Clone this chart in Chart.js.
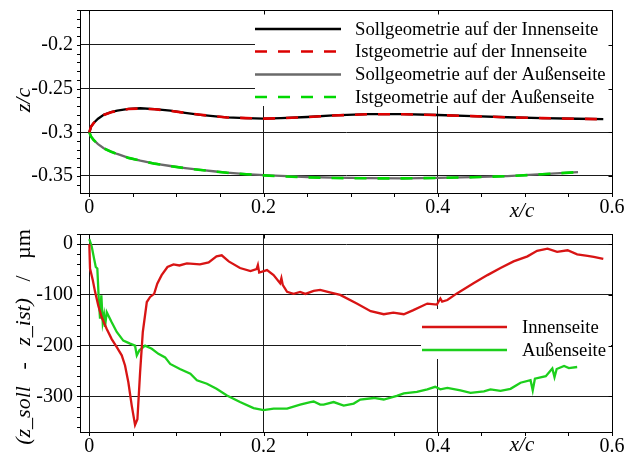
<!DOCTYPE html>
<html>
<head>
<meta charset="utf-8">
<script src="https://cdn.jsdelivr.net/npm/chart.js@4/dist/chart.umd.min.js"></script>
<style>
  html, body { margin: 0; padding: 0; background: #fff; width: 625px; height: 456px; overflow: hidden; }
  canvas { position: absolute; left: 0; display: block; }
  #geo { top: 0; }
  #dev { top: 225px; }
  .preload { position: absolute; left: -9999px; top: 0; font-family: 'Liberation Serif'; }
</style>
</head>
<body>
<span class="preload">0.2 Innenseite <i>z/c</i></span>
<canvas id="geo" width="625" height="225"></canvas>
<canvas id="dev" width="625" height="231"></canvas>
<script>
const SERIF = "'Liberation Serif', 'Times New Roman', serif";

// ---- Profile geometry, z/c over x/c ----
const innerX    = [0, 0.002, 0.005, 0.01, 0.0165, 0.025, 0.032, 0.045, 0.0586, 0.075, 0.093, 0.11, 0.1276, 0.145, 0.158, 0.18, 0.2, 0.22, 0.25, 0.28, 0.32, 0.36, 0.4, 0.44, 0.48, 0.52, 0.56, 0.59];
const innerSoll = [-0.3, -0.2935, -0.2894, -0.2845, -0.28, -0.277, -0.2753, -0.2733, -0.2725, -0.2735, -0.2753, -0.2778, -0.28, -0.2818, -0.283, -0.2838, -0.2843, -0.2838, -0.2825, -0.2807, -0.2792, -0.2792, -0.2802, -0.2815, -0.2828, -0.2838, -0.2845, -0.285];
const innerIst  = [-0.3, -0.2935, -0.2894, -0.2845, -0.2801, -0.2771, -0.2754, -0.2734, -0.2727, -0.2737, -0.2754, -0.2778, -0.28, -0.2818, -0.283, -0.2838, -0.2843, -0.2839, -0.2826, -0.2808, -0.2793, -0.2793, -0.2803, -0.2815, -0.2828, -0.2838, -0.2845, -0.2851];

const outerX    = [0, 0.002, 0.005, 0.01, 0.0165, 0.025, 0.032, 0.045, 0.0586, 0.075, 0.093, 0.11, 0.1276, 0.145, 0.158, 0.18, 0.2, 0.22, 0.25, 0.28, 0.32, 0.36, 0.4, 0.44, 0.48, 0.52, 0.561];
const outerSoll = [-0.3, -0.305, -0.3088, -0.3135, -0.3183, -0.3222, -0.3248, -0.3292, -0.3325, -0.3358, -0.3386, -0.341, -0.3431, -0.3449, -0.3462, -0.3478, -0.349, -0.35, -0.3512, -0.352, -0.3525, -0.3527, -0.3522, -0.3514, -0.3501, -0.348, -0.3455];
const outerIst  = [-0.3, -0.305, -0.3089, -0.3136, -0.3184, -0.3223, -0.3249, -0.3293, -0.3326, -0.3359, -0.3387, -0.3411, -0.3432, -0.345, -0.3463, -0.348, -0.3493, -0.3504, -0.3516, -0.3523, -0.3527, -0.3528, -0.3523, -0.3515, -0.3502, -0.3481, -0.3456];

const geoXTicks  = [0, 0.2, 0.4, 0.6];
const geoXLabels = ['0', '0.2', '0.4', '0.6'];
const geoYTicks  = [-0.35, -0.3, -0.25, -0.2];
const geoYLabels = ['-0.35', '-0.3', '-0.25', '-0.2'];

// ---- Deviation z_soll - z_ist in µm ----
const innenX = [0, 0.0008, 0.004, 0.0066, 0.0103, 0.0142, 0.02, 0.0257, 0.0315, 0.0372, 0.041, 0.0448, 0.0487, 0.0525, 0.0552, 0.0583, 0.0614, 0.066, 0.0698, 0.0744, 0.078, 0.083, 0.0897, 0.0966, 0.1034, 0.112, 0.127, 0.137, 0.146, 0.152, 0.16, 0.173, 0.185, 0.192, 0.1935, 0.195, 0.204, 0.2115, 0.219, 0.2205, 0.222, 0.227, 0.2345, 0.242, 0.248, 0.2575, 0.265, 0.276, 0.288, 0.307, 0.323, 0.338, 0.349, 0.361, 0.372, 0.388, 0.399, 0.403, 0.405, 0.411, 0.422, 0.441, 0.457, 0.472, 0.487, 0.503, 0.514, 0.526, 0.537, 0.549, 0.56, 0.572, 0.579, 0.59];
const innenDev = [0, -48, -71, -94, -121, -144, -167, -187, -203, -219, -239, -272, -318, -356, -345, -252, -173, -114, -104, -98, -78, -61, -45, -40, -42, -38, -40, -36, -24, -22, -34, -47, -53, -49, -41, -56, -51, -61, -77, -67, -80, -94, -98, -94, -98, -92, -90, -95, -100, -117, -132, -138, -135, -138, -130, -117, -119, -107, -113, -110, -97, -77, -61, -47, -34, -24, -13, -9, -15, -12, -20, -23, -25, -29];

const aussenX = [0, 0.0028, 0.0054, 0.0074, 0.0092, 0.0108, 0.0123, 0.0138, 0.0154, 0.0169, 0.018, 0.02, 0.0257, 0.0315, 0.039, 0.0468, 0.0525, 0.0545, 0.0575, 0.064, 0.0717, 0.0793, 0.087, 0.0928, 0.104, 0.116, 0.1235, 0.135, 0.146, 0.158, 0.173, 0.1885, 0.2, 0.2115, 0.227, 0.242, 0.2537, 0.2575, 0.265, 0.269, 0.2805, 0.292, 0.3035, 0.311, 0.3265, 0.338, 0.353, 0.361, 0.376, 0.388, 0.397, 0.403, 0.411, 0.426, 0.4376, 0.453, 0.4605, 0.472, 0.4835, 0.495, 0.5065, 0.509, 0.5115, 0.524, 0.5315, 0.534, 0.5365, 0.545, 0.5505, 0.56];
const aussenDev = [10, -5, -28, -45, -48, -107, -147, -101, -154, -140, -163, -134, -154, -173, -190, -196, -200, -219, -209, -200, -206, -216, -223, -236, -246, -255, -268, -275, -285, -298, -311, -323, -327, -324, -324, -316, -311, -310, -316, -316, -311, -318, -314, -306, -303, -306, -299, -294, -291, -286, -281, -286, -283, -288, -293, -290, -286, -289, -285, -273, -268, -288, -265, -260, -245, -262, -246, -240, -244, -242];

const devYTicks  = [-300, -200, -100, 0];
const devYLabels = ['-300', '-200', '-100', '0'];

const pts = (xs, ys) => xs.map((x, i) => ({ x, y: ys[i] }));

// Frame, minor ticks, in-plot legend and axis titles
function decorations(cfg) {
  return {
    id: 'decorations',
    beforeDatasetsDraw(chart) {
      const ctx = chart.ctx, a = chart.chartArea, b = cfg.legend.box;
      ctx.save();
      ctx.fillStyle = '#fff';
      ctx.fillRect(b[0], b[1], (b[2] ?? a.right) - b[0], b[3] - b[1]);
      ctx.restore();
    },
    afterDatasetsDraw(chart) {
      const ctx = chart.ctx, a = chart.chartArea;
      const xs = chart.scales.x, ys = chart.scales.y;
      ctx.save();

      // legend
      const L = cfg.legend;
      ctx.font = `18.7px ${SERIF}`;
      ctx.textBaseline = 'middle';
      ctx.textAlign = 'left';
      ctx.fillStyle = '#000';
      chart.data.datasets.forEach((ds, i) => {
        const y = L.rows[i];
        ctx.strokeStyle = ds.borderColor;
        ctx.lineWidth = ds.borderWidth;
        ctx.setLineDash(ds.borderDash || []);
        ctx.beginPath();
        ctx.moveTo(L.x0, y);
        ctx.lineTo(L.x1, y);
        ctx.stroke();
        ctx.fillText(ds.label, L.tx, y + 1);
      });
      ctx.setLineDash([]);

      // frame
      ctx.strokeStyle = '#000';
      ctx.lineWidth = 1;
      const l = Math.round(a.left) + 0.5, r = Math.round(a.right) + 0.5;
      const t = Math.round(a.top) + 0.5, bt = Math.round(a.bottom) + 0.5;
      ctx.strokeRect(l, t, r - l, bt - t);

      // ticks: outward on left/bottom, inward on top/right at major values
      ctx.beginPath();
      for (let v = Math.ceil(xs.min / cfg.xMinor) * cfg.xMinor; v <= xs.max + 1e-9; v += cfg.xMinor) {
        const p = Math.round(xs.getPixelForValue(v)) + 0.5;
        ctx.moveTo(p, bt); ctx.lineTo(p, bt + 3.5);
      }
      for (let v = Math.ceil(ys.min / cfg.yMinor) * cfg.yMinor; v <= ys.max + 1e-9; v += cfg.yMinor) {
        const p = Math.round(ys.getPixelForValue(v)) + 0.5;
        ctx.moveTo(l, p); ctx.lineTo(l - 3.5, p);
      }
      xs.ticks.forEach(tk => {
        const p = Math.round(xs.getPixelForValue(tk.value)) + 0.5;
        ctx.moveTo(p, t); ctx.lineTo(p, t + 4);
      });
      ys.ticks.forEach(tk => {
        const p = Math.round(ys.getPixelForValue(tk.value)) + 0.5;
        ctx.moveTo(r, p); ctx.lineTo(r - 4, p);
      });
      ctx.stroke();

      // x axis title
      ctx.font = `italic 21px ${SERIF}`;
      ctx.textAlign = 'center';
      ctx.fillText('x/c', cfg.xTitle[0], cfg.xTitle[1]);

      // rotated y axis title, drawn in styled segments
      ctx.translate(cfg.yTitle[0], cfg.yTitle[1]);
      ctx.rotate(-Math.PI / 2);
      ctx.textAlign = 'left';
      const segs = cfg.yTitleParts;
      let total = 0;
      segs.forEach(s => { ctx.font = s.font; total += ctx.measureText(s.text).width; });
      let pos = -total / 2;
      segs.forEach(s => {
        ctx.font = s.font;
        ctx.fillText(s.text, pos, 0);
        pos += ctx.measureText(s.text).width;
      });
      ctx.restore();
    }
  };
}

function axes(xMin, xMax, xTicks, xLabels, xHeight, yMin, yMax, yTicks, yLabels) {
  const tickFont = { family: SERIF, size: 20 };
  return {
    x: {
      type: 'linear', min: xMin, max: xMax,
      afterBuildTicks: s => { s.ticks = xTicks.map(v => ({ value: v })); },
      afterFit: s => { s.height = xHeight; s.paddingLeft = 0; s.paddingRight = 0; },
      ticks: { callback: (v, i) => xLabels[i], font: tickFont, color: '#000', padding: 3, autoSkip: false, maxRotation: 0 },
      grid: { color: '#1a1a1a', lineWidth: 1, drawTicks: false },
      border: { display: true, color: '#000', width: 1 }
    },
    y: {
      type: 'linear', min: yMin, max: yMax,
      afterBuildTicks: s => { s.ticks = yTicks.map(v => ({ value: v })); },
      afterFit: s => { s.width = 80; s.paddingTop = 0; s.paddingBottom = 0; },
      ticks: { callback: (v, i) => yLabels[i], font: tickFont, color: '#000', padding: 7, autoSkip: false },
      grid: { color: '#1a1a1a', lineWidth: 1, drawTicks: false },
      border: { display: true, color: '#000', width: 1 }
    }
  };
}

const common = {
  responsive: false,
  animation: false,
  events: [],
  elements: { point: { radius: 0 }, line: { tension: 0, fill: false, borderCapStyle: 'butt' } },
  plugins: { legend: { display: false }, tooltip: { enabled: false } }
};

function drawCharts() {
  Chart.defaults.font.family = SERIF;

  new Chart(document.getElementById('geo'), {
    type: 'scatter',
    data: {
      datasets: [
        { label: 'Sollgeometrie auf der Innenseite', data: pts(innerX, innerSoll), showLine: true, borderColor: '#000000', borderWidth: 2.3, order: 2 },
        { label: 'Istgeometrie auf der Innenseite', data: pts(innerX, innerIst), showLine: true, borderColor: '#dc0000', borderWidth: 2.6, borderDash: [12, 11], order: 1 },
        { label: 'Sollgeometrie auf der Außenseite', data: pts(outerX, outerSoll), showLine: true, borderColor: '#6a6a6a', borderWidth: 2.3, order: 2 },
        { label: 'Istgeometrie auf der Außenseite', data: pts(outerX, outerIst), showLine: true, borderColor: '#00d800', borderWidth: 2.6, borderDash: [12, 11], order: 1 }
      ]
    },
    options: {
      ...common,
      layout: { padding: { top: 10, right: 13, left: 0, bottom: 0 } },
      scales: axes(-0.0107, 0.6, geoXTicks, geoXLabels, 32, -0.3695, -0.16, geoYTicks, geoYLabels)
    },
    plugins: [decorations({
      legend: { box: [255, 10, null, 106], rows: [29, 51.5, 74.5, 97], x0: 255, x1: 341, tx: 355 },
      xMinor: 0.05, yMinor: 0.01,
      xTitle: [522, 211],
      yTitle: [24, 100],
      yTitleParts: [{ text: 'z/c', font: `italic 22px ${SERIF}` }]
    })]
  });

  new Chart(document.getElementById('dev'), {
    type: 'scatter',
    data: {
      datasets: [
        { label: 'Innenseite', data: pts(innenX, innenDev), showLine: true, borderColor: '#d81414', borderWidth: 2.3 },
        { label: 'Außenseite', data: pts(aussenX, aussenDev), showLine: true, borderColor: '#1ccf1c', borderWidth: 2.3 }
      ]
    },
    options: {
      ...common,
      layout: { padding: { top: 9, right: 13, left: 0, bottom: 0 } },
      scales: axes(-0.0107, 0.6, geoXTicks, geoXLabels, 24, -370, 20, devYTicks, devYLabels)
    },
    plugins: [decorations({
      legend: { box: [421, 84, 611, 134], rows: [102, 125], x0: 422, x1: 507, tx: 522 },
      xMinor: 0.05, yMinor: 20,
      xTitle: [522, 220],
      yTitle: [24, 112],
      yTitleParts: [
        { text: '(z_soll', font: `italic 22px ${SERIF}` },
        { text: '   -   ', font: `22px ${SERIF}` },
        { text: 'z_ist)', font: `italic 22px ${SERIF}` },
        { text: '   /   ', font: `22px ${SERIF}` },
        { text: 'µm', font: `22px ${SERIF}` }
      ]
    })]
  });
}

// make sure the serif face is ready before the canvases are painted
Promise.all([
  document.fonts.load(`20px 'Liberation Serif'`),
  document.fonts.load(`italic 20px 'Liberation Serif'`)
]).then(drawCharts, drawCharts);
</script>
</body>
</html>
